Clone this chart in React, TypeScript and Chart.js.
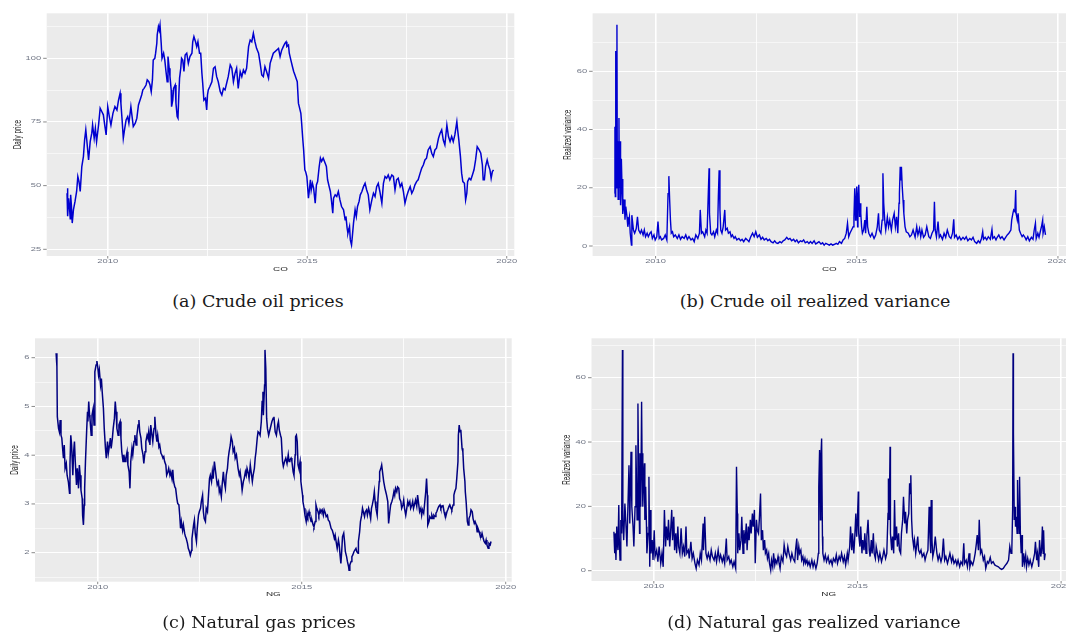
import React, { useEffect, useRef } from "react";
import { Chart, registerables } from "chart.js";

Chart.register(...registerables);

// ---------------- DATA ----------------
const yearTicks = [2010, 2015, 2020];
const yearMinorTicks = [2012.5, 2017.5];

const coPriceTicks = [25, 50, 75, 100];
const coPriceMinorTicks = [37.5, 62.5, 87.5, 112.5];
const rvTicks = [0, 20, 40, 60];
const rvMinorTicks = [10, 30, 50, 70];
const ngPriceTicks = [2, 3, 4, 5, 6];
const ngPriceMinorTicks = [1.5, 2.5, 3.5, 4.5, 5.5];

const coPriceYears = [
  2008.98, 2008.99, 2009.0, 2009.02, 2009.04, 2009.06, 2009.07, 2009.09, 2009.11, 2009.14, 2009.18, 2009.22, 2009.25, 2009.28, 2009.31, 2009.35, 2009.39, 2009.42, 2009.45, 2009.47,
  2009.52, 2009.56, 2009.6, 2009.62, 2009.66, 2009.69, 2009.72, 2009.77, 2009.81, 2009.85, 2009.89, 2009.93, 2009.96, 2010.0, 2010.04, 2010.08, 2010.13, 2010.18, 2010.23, 2010.27,
  2010.31, 2010.33, 2010.36, 2010.39, 2010.42, 2010.46, 2010.5, 2010.53, 2010.58, 2010.61, 2010.64, 2010.69, 2010.73, 2010.77, 2010.81, 2010.85, 2010.88, 2010.91, 2010.96, 2010.99,
  2011.03, 2011.06, 2011.09, 2011.12, 2011.14, 2011.18, 2011.2, 2011.23, 2011.24, 2011.27, 2011.29, 2011.31, 2011.34, 2011.36, 2011.4, 2011.43, 2011.46, 2011.49, 2011.51, 2011.54,
  2011.56, 2011.59, 2011.6, 2011.63, 2011.65, 2011.69, 2011.71, 2011.74, 2011.76, 2011.78, 2011.8, 2011.83, 2011.85, 2011.88, 2011.91, 2011.94, 2011.98, 2012.02, 2012.06, 2012.11,
  2012.13, 2012.16, 2012.2, 2012.23, 2012.26, 2012.3, 2012.33, 2012.36, 2012.38, 2012.41, 2012.45, 2012.48, 2012.5, 2012.52, 2012.56, 2012.61, 2012.65, 2012.69, 2012.73, 2012.77,
  2012.82, 2012.86, 2012.9, 2012.94, 2012.98, 2013.02, 2013.07, 2013.11, 2013.15, 2013.19, 2013.23, 2013.27, 2013.32, 2013.36, 2013.4, 2013.44, 2013.48, 2013.53, 2013.57, 2013.61,
  2013.65, 2013.69, 2013.73, 2013.78, 2013.82, 2013.86, 2013.9, 2013.94, 2013.98, 2014.03, 2014.07, 2014.11, 2014.15, 2014.28, 2014.32, 2014.36, 2014.4, 2014.44, 2014.47, 2014.49,
  2014.53, 2014.55, 2014.59, 2014.63, 2014.66, 2014.69, 2014.72, 2014.75, 2014.78, 2014.8, 2014.84, 2014.86, 2014.89, 2014.91, 2014.94, 2014.96, 2014.99, 2015.01, 2015.03, 2015.05,
  2015.08, 2015.1, 2015.13, 2015.16, 2015.2, 2015.23, 2015.26, 2015.3, 2015.33, 2015.36, 2015.4, 2015.45, 2015.48, 2015.51, 2015.55, 2015.58, 2015.61, 2015.64, 2015.66, 2015.7,
  2015.74, 2015.78, 2015.82, 2015.86, 2015.91, 2015.95, 2015.97, 2016.0, 2016.02, 2016.06, 2016.08, 2016.11, 2016.13, 2016.16, 2016.2, 2016.23, 2016.26, 2016.3, 2016.33, 2016.37,
  2016.41, 2016.45, 2016.49, 2016.53, 2016.57, 2016.62, 2016.66, 2016.7, 2016.74, 2016.78, 2016.82, 2016.87, 2016.91, 2016.95, 2016.99, 2017.03, 2017.07, 2017.12, 2017.16, 2017.2,
  2017.24, 2017.28, 2017.33, 2017.37, 2017.41, 2017.45, 2017.49, 2017.53, 2017.58, 2017.62, 2017.66, 2017.7, 2017.74, 2017.78, 2017.83, 2017.87, 2017.91, 2017.95, 2017.99, 2018.03,
  2018.08, 2018.12, 2018.16, 2018.2, 2018.24, 2018.29, 2018.33, 2018.37, 2018.41, 2018.45, 2018.5, 2018.54, 2018.58, 2018.62, 2018.66, 2018.7, 2018.75, 2018.77, 2018.8, 2018.84,
  2018.87, 2018.9, 2018.94, 2018.97, 2019.0, 2019.02, 2019.06, 2019.1, 2019.14, 2019.18, 2019.22, 2019.26, 2019.31, 2019.35, 2019.39, 2019.41, 2019.44, 2019.47, 2019.51, 2019.54,
  2019.58, 2019.61, 2019.64, 2019.67,
];
const coPriceValues = [
  47, 49, 38, 45, 41.8, 37, 46.4, 42, 35.3, 40.5, 43.8, 47.7, 53.6, 51.6, 47.7, 57.5, 61.4, 67.9, 71.9, 68.6,
  60.1, 67.3, 70.6, 73.8, 68.6, 72.5, 67.3, 73.8, 80.4, 79.1, 77.8, 73.2, 69.9, 81, 77.1, 73.8, 78.4, 81, 79.7, 83.6,
  86.3, 82.3, 75.8, 68.6, 71.9, 75.8, 77.1, 74.5, 81, 77.1, 73.2, 74.5, 76.5, 81.7, 83.6, 85.6, 87.6, 88.2, 89.5, 91.5,
  90.8, 89.5, 86.9, 91.5, 99.3, 100, 102, 105.9, 109.2, 112.4, 111.1, 113.1, 105.9, 100, 102, 99.3, 94.8, 90.8, 100.7, 96.1,
  92.8, 87.6, 81, 83.6, 88.2, 89.5, 82.3, 77.1, 76.5, 85, 92.2, 96.1, 100, 99.3, 94.8, 101.3, 102, 98, 100.7, 102,
  106.5, 108.5, 106.5, 104.6, 106.5, 102, 102, 94.1, 90.2, 83.6, 84.3, 79.7, 85.6, 87.6, 88.9, 90.8, 96.1, 96.7, 92.8, 90.8,
  86.9, 85.6, 88.2, 87.6, 90.2, 92.8, 97.4, 96.1, 90.8, 94.1, 96.1, 88.2, 94.8, 92.8, 95.4, 94.1, 96.1, 104.6, 107.2, 106.5,
  109.8, 106.5, 103.9, 102, 98, 93.5, 92.8, 96.7, 94.8, 92.2, 98, 100, 102, 103.9, 100.7, 103.2, 104.6, 105.9, 106.5, 104.6,
  105.2, 102, 99.3, 96.7, 94.8, 93.5, 92.2, 90.8, 82.3, 81, 78.4, 74.5, 67.9, 64, 56.2, 55.5, 53.6, 49.6, 45.1, 47.7,
  52.3, 48.3, 50.9, 49, 43.1, 50.3, 51.6, 57.5, 60.8, 59.5, 60.8, 58.8, 57.5, 52.3, 49.6, 47.7, 43.8, 39.2, 45.1, 46.4,
  45.7, 47.7, 44.4, 41.8, 40.5, 36.6, 37.9, 33.3, 31.3, 33.9, 28.7, 26.7, 30, 35.3, 40.5, 37.9, 41.8, 43.8, 46.4, 47.7,
  49.6, 50.9, 48.3, 46.4, 40.5, 44.4, 47, 45.7, 49.6, 50.9, 47.7, 43.1, 50.9, 53.6, 52.9, 54.2, 52.3, 54.2, 53.6, 48.3,
  52.3, 52.9, 49.6, 50.9, 47.7, 43.1, 45.7, 47.7, 49.6, 47, 48.3, 50.3, 51.6, 52.3, 54.9, 56.9, 58.1, 60.1, 60.8, 64,
  65.3, 62.7, 61.4, 64, 64.7, 68.6, 70.6, 71.9, 67.9, 66, 73.8, 69.3, 67.3, 69.3, 67.3, 69.9, 75.1, 71.9, 67.9, 61.4,
  54.9, 51.6, 50.9, 44.4, 47, 51.6, 52.9, 52.3, 54.2, 56.2, 60.1, 65.3, 64, 62.7, 58.1, 52.3, 52.3, 57.5, 60.1, 58.1,
  56.2, 52.9, 55.5, 56.2,
];

const coRvYears = [
  2008.98, 2008.99, 2009.0, 2009.01, 2009.02, 2009.04, 2009.05, 2009.06, 2009.07, 2009.09, 2009.1, 2009.12, 2009.13, 2009.15, 2009.17, 2009.18, 2009.19, 2009.22, 2009.24, 2009.26,
  2009.29, 2009.31, 2009.35, 2009.37, 2009.4, 2009.41, 2009.45, 2009.48, 2009.52, 2009.55, 2009.58, 2009.62, 2009.65, 2009.69, 2009.72, 2009.75, 2009.79, 2009.82, 2009.86, 2009.89,
  2009.92, 2009.96, 2009.99, 2010.03, 2010.06, 2010.09, 2010.12, 2010.15, 2010.2, 2010.24, 2010.28, 2010.31, 2010.33, 2010.35, 2010.37, 2010.39, 2010.42, 2010.45, 2010.49, 2010.54,
  2010.58, 2010.62, 2010.66, 2010.71, 2010.75, 2010.79, 2010.83, 2010.88, 2010.92, 2010.96, 2011.0, 2011.05, 2011.09, 2011.11, 2011.14, 2011.17, 2011.22, 2011.25, 2011.28, 2011.31,
  2011.33, 2011.34, 2011.37, 2011.4, 2011.44, 2011.47, 2011.51, 2011.54, 2011.56, 2011.58, 2011.6, 2011.62, 2011.65, 2011.68, 2011.72, 2011.74, 2011.78, 2011.81, 2011.85, 2011.88,
  2011.91, 2011.95, 2011.98, 2012.02, 2012.07, 2012.11, 2012.15, 2012.19, 2012.24, 2012.28, 2012.32, 2012.36, 2012.41, 2012.45, 2012.49, 2012.53, 2012.58, 2012.62, 2012.66, 2012.7,
  2012.75, 2012.79, 2012.83, 2012.87, 2012.92, 2012.96, 2013.0, 2013.04, 2013.09, 2013.13, 2013.17, 2013.21, 2013.26, 2013.3, 2013.34, 2013.38, 2013.43, 2013.47, 2013.51, 2013.55,
  2013.6, 2013.64, 2013.68, 2013.72, 2013.77, 2013.81, 2013.85, 2013.89, 2013.94, 2013.98, 2014.02, 2014.06, 2014.11, 2014.15, 2014.19, 2014.23, 2014.28, 2014.32, 2014.36, 2014.4,
  2014.45, 2014.49, 2014.53, 2014.57, 2014.62, 2014.66, 2014.7, 2014.74, 2014.77, 2014.8, 2014.83, 2014.87, 2014.91, 2014.93, 2014.95, 2014.97, 2014.98, 2015.0, 2015.02, 2015.03,
  2015.05, 2015.07, 2015.09, 2015.1, 2015.12, 2015.14, 2015.17, 2015.2, 2015.22, 2015.25, 2015.27, 2015.3, 2015.34, 2015.38, 2015.43, 2015.47, 2015.51, 2015.54, 2015.56, 2015.6,
  2015.63, 2015.65, 2015.67, 2015.7, 2015.72, 2015.76, 2015.79, 2015.82, 2015.86, 2015.89, 2015.93, 2015.96, 2015.99, 2016.02, 2016.05, 2016.06, 2016.08, 2016.1, 2016.11, 2016.13,
  2016.15, 2016.17, 2016.2, 2016.23, 2016.28, 2016.32, 2016.36, 2016.4, 2016.45, 2016.49, 2016.52, 2016.56, 2016.59, 2016.62, 2016.66, 2016.7, 2016.74, 2016.79, 2016.83, 2016.87,
  2016.91, 2016.93, 2016.95, 2016.98, 2017.02, 2017.05, 2017.08, 2017.13, 2017.17, 2017.21, 2017.25, 2017.3, 2017.34, 2017.38, 2017.41, 2017.43, 2017.47, 2017.51, 2017.55, 2017.59,
  2017.64, 2017.68, 2017.72, 2017.76, 2017.81, 2017.85, 2017.89, 2017.93, 2017.98, 2018.02, 2018.06, 2018.1, 2018.13, 2018.15, 2018.19, 2018.23, 2018.27, 2018.32, 2018.36, 2018.38,
  2018.42, 2018.46, 2018.49, 2018.53, 2018.57, 2018.61, 2018.66, 2018.7, 2018.74, 2018.78, 2018.83, 2018.85, 2018.88, 2018.9, 2018.93, 2018.95, 2018.96, 2018.99, 2019.01, 2019.04,
  2019.07, 2019.11, 2019.14, 2019.18, 2019.21, 2019.25, 2019.29, 2019.34, 2019.38, 2019.41, 2019.44, 2019.46, 2019.5, 2019.53, 2019.57, 2019.59, 2019.62, 2019.63, 2019.66, 2019.69,
];
const coRvValues = [
  18, 41, 17, 67, 20, 76, 22, 36, 16, 44, 20, 36, 14, 30, 18, 23, 11, 16, 9, 13.5,
  10, 6.6, 10, 4.4, 0.3, 10.6, 5.5, 4.4, 6, 10, 5.5, 4.4, 5.5, 3.8, 5.5, 3.2, 4.4, 3.2, 4.4, 4.9,
  2.6, 3.8, 2.1, 3.2, 8.4, 2.6, 3.2, 2.1, 2.6, 3.8, 2.1, 18, 24, 15.8, 8.9, 4.4, 4.9, 3.2, 3.8, 2.6,
  3.8, 2.3, 3.2, 2.6, 3.8, 2.3, 3.2, 2.1, 2.6, 1.5, 3.8, 2.6, 4.4, 12.4, 4.4, 4.9, 3.2, 5.5, 4.4, 18,
  26.7, 11.2, 4.4, 3.8, 4.9, 3.2, 5.5, 4.4, 17, 26, 12.4, 5.5, 4.4, 6.6, 12.4, 5.5, 6.1, 4.4, 4.9, 3.2,
  3.8, 2.6, 3.2, 2.1, 2.6, 1.8, 2.3, 1.5, 2.6, 2.1, 1.5, 3, 4.4, 3.2, 4.9, 3, 3.8, 2.3, 3, 2.1,
  2.6, 1.8, 2.3, 1.5, 1.1, 1.8, 1.1, 0.9, 1.5, 1.1, 1.8, 2.1, 3, 2.3, 2.6, 1.8, 2.3, 1.5, 2.1, 1.1,
  1.8, 1.5, 2.1, 1.1, 1.5, 0.9, 1.5, 0.9, 1.8, 0.7, 1.1, 1.5, 0.7, 1.1, 0.3, 0.9, 0.6, 0.3, 0.7, 0.3,
  0.6, 0.9, 0.6, 1.5, 0.9, 2.1, 2.6, 4.4, 7.8, 3.2, 4.4, 5.5, 6.6, 10, 19.8, 8.9, 13.5, 20.4, 6.6, 15.8,
  21, 10, 14.7, 11.2, 6.6, 4.4, 5.5, 8.9, 4.4, 13.5, 6.6, 4.4, 3.2, 4.4, 2.6, 3.8, 6.6, 11.2, 5.5, 4.4,
  8.9, 25, 14.7, 7.8, 5.5, 10, 6.6, 8.9, 5.5, 8.9, 11.2, 6.6, 10, 4.4, 14.7, 18, 27.2, 22.7, 27.2, 20.4,
  15.8, 11.2, 6.6, 4.9, 4.4, 3.2, 3.8, 5.5, 3, 6.6, 3.8, 6, 3.2, 5.5, 3, 3.8, 6.6, 3.2, 2.6, 4.4,
  5.5, 15.2, 5.5, 3.2, 8.4, 3, 3.8, 2.3, 4.4, 3, 5.5, 3.2, 2.6, 4.4, 9.2, 3, 3.8, 2.3, 3.2, 2.1,
  3, 2.3, 3.2, 1.8, 2.6, 2.1, 3, 1.5, 0.9, 1.8, 1.1, 2.6, 4.9, 2.3, 3, 2.1, 3.2, 2.3, 5.7, 2.6,
  3.2, 2.1, 3, 3.8, 2.6, 3.2, 2.1, 3, 3.8, 4.4, 5.5, 8.9, 11.2, 12.4, 11.8, 19.2, 11.2, 8.9, 11.2, 5.5,
  4.4, 3.2, 3.8, 3, 2.1, 3.2, 1.8, 3, 2.3, 5.5, 7.8, 2.6, 4.4, 3, 5.5, 6.6, 8.9, 4.4, 6.6, 3.8,
];

const ngPriceYears = [
  2008.98, 2009.0, 2009.01, 2009.04, 2009.06, 2009.08, 2009.1, 2009.12, 2009.14, 2009.16, 2009.18, 2009.2, 2009.23, 2009.25, 2009.28, 2009.31, 2009.32, 2009.34, 2009.36, 2009.39,
  2009.41, 2009.43, 2009.45, 2009.48, 2009.5, 2009.53, 2009.55, 2009.57, 2009.59, 2009.62, 2009.63, 2009.65, 2009.67, 2009.68, 2009.7, 2009.73, 2009.75, 2009.76, 2009.78, 2009.8,
  2009.81, 2009.84, 2009.86, 2009.89, 2009.91, 2009.93, 2009.96, 2009.98, 2010.0, 2010.02, 2010.04, 2010.07, 2010.09, 2010.11, 2010.14, 2010.16, 2010.19, 2010.21, 2010.24, 2010.26,
  2010.29, 2010.31, 2010.33, 2010.36, 2010.38, 2010.41, 2010.43, 2010.45, 2010.47, 2010.5, 2010.52, 2010.55, 2010.57, 2010.59, 2010.62, 2010.64, 2010.67, 2010.69, 2010.72, 2010.74,
  2010.77, 2010.79, 2010.81, 2010.84, 2010.86, 2010.89, 2010.91, 2010.94, 2010.96, 2010.99, 2011.01, 2011.03, 2011.06, 2011.08, 2011.11, 2011.13, 2011.16, 2011.18, 2011.21, 2011.23,
  2011.25, 2011.28, 2011.3, 2011.33, 2011.35, 2011.38, 2011.4, 2011.43, 2011.45, 2011.47, 2011.5, 2011.52, 2011.55, 2011.57, 2011.6, 2011.62, 2011.64, 2011.67, 2011.69, 2011.72,
  2011.74, 2011.77, 2011.79, 2011.82, 2011.84, 2011.86, 2011.89, 2011.91, 2011.94, 2011.96, 2011.99, 2012.01, 2012.03, 2012.05, 2012.08, 2012.1, 2012.13, 2012.15, 2012.17, 2012.2,
  2012.22, 2012.25, 2012.27, 2012.3, 2012.31, 2012.33, 2012.35, 2012.37, 2012.39, 2012.42, 2012.44, 2012.47, 2012.49, 2012.52, 2012.54, 2012.57, 2012.59, 2012.61, 2012.64, 2012.66,
  2012.69, 2012.71, 2012.74, 2012.76, 2012.79, 2012.81, 2012.83, 2012.86, 2012.88, 2012.91, 2012.93, 2012.96, 2012.98, 2013.0, 2013.03, 2013.05, 2013.08, 2013.1, 2013.13, 2013.15,
  2013.18, 2013.2, 2013.22, 2013.25, 2013.27, 2013.3, 2013.32, 2013.35, 2013.37, 2013.4, 2013.42, 2013.44, 2013.47, 2013.49, 2013.52, 2013.54, 2013.57, 2013.59, 2013.62, 2013.64,
  2013.66, 2013.69, 2013.71, 2013.74, 2013.76, 2013.79, 2013.81, 2013.84, 2013.86, 2013.88, 2013.91, 2013.93, 2013.96, 2013.98, 2014.01, 2014.03, 2014.05, 2014.06, 2014.09, 2014.1,
  2014.12, 2014.14, 2014.16, 2014.19, 2014.21, 2014.27, 2014.3, 2014.32, 2014.35, 2014.38, 2014.41, 2014.43, 2014.45, 2014.48, 2014.5, 2014.53, 2014.55, 2014.58, 2014.61, 2014.64,
  2014.67, 2014.69, 2014.71, 2014.74, 2014.76, 2014.79, 2014.81, 2014.84, 2014.85, 2014.87, 2014.89, 2014.91, 2014.93, 2014.96, 2014.98, 2015.0, 2015.02, 2015.03, 2015.06, 2015.08,
  2015.11, 2015.13, 2015.15, 2015.18, 2015.2, 2015.23, 2015.25, 2015.28, 2015.3, 2015.33, 2015.35, 2015.37, 2015.4, 2015.42, 2015.45, 2015.47, 2015.5, 2015.53, 2015.55, 2015.58,
  2015.6, 2015.63, 2015.65, 2015.68, 2015.7, 2015.72, 2015.75, 2015.77, 2015.8, 2015.82, 2015.85, 2015.87, 2015.9, 2015.92, 2015.94, 2015.96, 2015.98, 2016.0, 2016.03, 2016.05,
  2016.07, 2016.1, 2016.12, 2016.15, 2016.16, 2016.18, 2016.21, 2016.23, 2016.25, 2016.28, 2016.3, 2016.33, 2016.35, 2016.38, 2016.39, 2016.42, 2016.44, 2016.47, 2016.49, 2016.51,
  2016.54, 2016.56, 2016.59, 2016.61, 2016.64, 2016.66, 2016.69, 2016.71, 2016.73, 2016.76, 2016.78, 2016.8, 2016.82, 2016.85, 2016.87, 2016.9, 2016.91, 2016.94, 2016.96, 2016.99,
  2017.01, 2017.04, 2017.06, 2017.08, 2017.11, 2017.13, 2017.16, 2017.18, 2017.21, 2017.23, 2017.26, 2017.28, 2017.3, 2017.33, 2017.35, 2017.38, 2017.4, 2017.43, 2017.45, 2017.48,
  2017.5, 2017.52, 2017.55, 2017.57, 2017.6, 2017.62, 2017.65, 2017.67, 2017.7, 2017.72, 2017.74, 2017.77, 2017.79, 2017.82, 2017.84, 2017.87, 2017.89, 2017.92, 2017.94, 2017.96,
  2017.99, 2018.01, 2018.04, 2018.06, 2018.08, 2018.09, 2018.12, 2018.14, 2018.17, 2018.19, 2018.22, 2018.24, 2018.27, 2018.29, 2018.31, 2018.34, 2018.36, 2018.39, 2018.41, 2018.44,
  2018.46, 2018.49, 2018.51, 2018.53, 2018.56, 2018.58, 2018.61, 2018.63, 2018.66, 2018.68, 2018.71, 2018.73, 2018.75, 2018.78, 2018.8, 2018.83, 2018.84, 2018.86, 2018.88, 2018.9,
  2018.93, 2018.95, 2018.97, 2019.0, 2019.01, 2019.03, 2019.06, 2019.08, 2019.1, 2019.13, 2019.15, 2019.18, 2019.2, 2019.23, 2019.25, 2019.28, 2019.3, 2019.32, 2019.35, 2019.37,
  2019.4, 2019.42, 2019.45, 2019.47, 2019.5, 2019.52, 2019.54, 2019.57, 2019.59, 2019.62, 2019.64,
];
const ngPriceValues = [
  6.09, 5.82, 4.79, 4.55, 4.48, 4.72, 4.41, 4.35, 4.14, 3.94, 4.21, 3.73, 3.83, 3.59, 3.46, 3.22, 3.8, 4.41, 4.21, 3.59,
  4.07, 4.28, 3.87, 3.39, 3.73, 3.32, 3.8, 3.59, 3.28, 3.11, 2.77, 2.57, 2.98, 3.32, 3.87, 4.52, 4.89, 4.69, 5.1, 4.82,
  4.76, 4.41, 4.82, 4.96, 4.62, 5.71, 5.85, 5.93, 5.82, 5.64, 5.75, 5.44, 5.57, 5.3, 4.96, 4.55, 4.14, 3.94, 4.28, 4.04,
  4.21, 4.35, 4.14, 4.35, 4.55, 4.76, 5.1, 4.89, 4.55, 4.41, 4.62, 4.69, 4.35, 4.07, 3.87, 4.01, 3.87, 3.94, 4.07, 3.8,
  3.66, 3.32, 3.87, 4.14, 4.01, 4.28, 4.41, 4.21, 4.41, 4.62, 4.72, 4.48, 4.35, 4.14, 4.01, 3.83, 4.07, 4.28, 4.41, 4.35,
  4.48, 4.21, 4.62, 4.41, 4.28, 4.55, 4.79, 4.41, 4.28, 4.41, 4.17, 4.21, 4.04, 4.01, 3.94, 3.97, 3.87, 3.8, 3.59, 3.66,
  3.73, 3.59, 3.66, 3.52, 3.7, 3.46, 3.35, 3.32, 3.11, 3.01, 2.98, 2.77, 2.5, 2.64, 2.46, 2.57, 2.4, 2.33, 2.29, 2.19,
  2.09, 2.02, 1.95, 2.05, 2.29, 2.43, 2.57, 2.67, 2.4, 2.23, 2.5, 2.77, 2.84, 2.91, 3.05, 3.18, 2.84, 2.7, 2.64, 2.91,
  2.84, 3.11, 3.52, 3.59, 3.46, 3.66, 3.52, 3.87, 3.73, 3.52, 3.39, 3.46, 3.25, 3.32, 3.15, 3.39, 3.66, 3.46, 3.32, 3.59,
  3.73, 3.94, 4.07, 4.21, 4.38, 4.28, 4.07, 4.14, 3.94, 4.01, 3.87, 3.73, 3.59, 3.66, 3.46, 3.28, 3.46, 3.52, 3.66, 3.59,
  3.73, 3.63, 3.52, 3.8, 3.66, 3.46, 3.59, 3.73, 3.94, 4.07, 4.35, 4.48, 4.45, 4.41, 4.69, 5.1, 5.3, 4.82, 5.44, 6.16,
  5.78, 4.76, 4.55, 4.41, 4.48, 4.69, 4.76, 4.79, 4.48, 4.41, 4.62, 4.69, 4.52, 4.41, 4.35, 3.87, 3.77, 3.87, 3.94, 3.83,
  4.01, 3.87, 3.9, 3.94, 3.87, 3.66, 3.59, 4.01, 4.38, 4.41, 4.28, 3.8, 3.73, 3.87, 3.46, 3.32, 3.18, 3.05, 2.91, 2.77,
  2.64, 2.81, 2.74, 2.84, 2.74, 2.64, 2.67, 2.57, 2.53, 2.64, 2.98, 2.91, 2.84, 2.77, 2.88, 2.84, 2.88, 2.77, 2.88, 2.81,
  2.74, 2.77, 2.67, 2.64, 2.57, 2.5, 2.46, 2.4, 2.29, 2.36, 2.19, 2.09, 2.26, 2.16, 1.95, 1.78, 2.02, 2.33, 2.4, 2.23,
  2.02, 1.92, 1.82, 1.71, 1.64, 1.75, 1.82, 1.92, 1.95, 2.02, 2.05, 2.09, 2.02, 1.99, 2.23, 2.43, 2.64, 2.77, 2.91, 2.84,
  2.74, 2.84, 2.88, 2.77, 2.91, 2.84, 2.7, 2.91, 2.98, 3.11, 3.25, 3.05, 2.91, 2.77, 3.11, 3.46, 3.66, 3.73, 3.8, 3.59,
  3.46, 3.32, 3.25, 3.18, 3.05, 2.6, 2.84, 2.98, 3.05, 3.11, 3.25, 3.18, 3.32, 3.25, 3.35, 3.32, 3.11, 3.05, 2.91, 2.98,
  3.08, 2.91, 2.77, 2.88, 3.05, 2.98, 3.05, 2.91, 2.98, 3.05, 2.91, 3.01, 3.08, 2.95, 3.18, 2.98, 2.84, 2.91, 2.77, 2.88,
  2.81, 2.98, 3.25, 3.52, 3.18, 2.57, 2.64, 2.74, 2.7, 2.77, 2.7, 2.77, 2.74, 2.81, 2.84, 2.91, 2.95, 2.98, 2.91, 2.95,
  2.98, 2.84, 2.77, 2.74, 2.84, 2.88, 2.95, 2.98, 2.91, 2.88, 2.98, 3.18, 3.25, 3.32, 3.52, 3.87, 4.41, 4.62, 4.48, 4.52,
  4.14, 4.07, 3.73, 3.46, 3.25, 3.05, 2.64, 2.57, 2.7, 2.77, 2.88, 2.84, 2.7, 2.6, 2.64, 2.57, 2.43, 2.5, 2.43, 2.36,
  2.33, 2.4, 2.29, 2.23, 2.19, 2.26, 2.16, 2.09, 2.19, 2.16, 2.23,
];

const ngRvYears = [
  2009.02, 2009.04, 2009.05, 2009.07, 2009.09, 2009.1, 2009.12, 2009.14, 2009.15, 2009.17, 2009.19, 2009.21, 2009.23, 2009.24, 2009.26, 2009.29, 2009.31, 2009.34, 2009.36, 2009.39,
  2009.41, 2009.44, 2009.46, 2009.49, 2009.51, 2009.54, 2009.56, 2009.59, 2009.61, 2009.63, 2009.65, 2009.66, 2009.68, 2009.7, 2009.71, 2009.73, 2009.75, 2009.77, 2009.78, 2009.8,
  2009.82, 2009.83, 2009.86, 2009.88, 2009.9, 2009.92, 2009.93, 2009.96, 2009.98, 2010.01, 2010.03, 2010.07, 2010.1, 2010.13, 2010.17, 2010.2, 2010.23, 2010.26, 2010.29, 2010.31,
  2010.34, 2010.36, 2010.39, 2010.41, 2010.44, 2010.46, 2010.49, 2010.51, 2010.54, 2010.56, 2010.59, 2010.61, 2010.64, 2010.67, 2010.7, 2010.73, 2010.76, 2010.79, 2010.81, 2010.85,
  2010.87, 2010.91, 2010.94, 2010.97, 2011.01, 2011.04, 2011.07, 2011.11, 2011.14, 2011.17, 2011.21, 2011.22, 2011.25, 2011.28, 2011.31, 2011.34, 2011.38, 2011.41, 2011.44, 2011.48,
  2011.51, 2011.54, 2011.58, 2011.61, 2011.64, 2011.68, 2011.71, 2011.74, 2011.78, 2011.8, 2011.84, 2011.87, 2011.9, 2011.94, 2011.97, 2012.01, 2012.03, 2012.05, 2012.06, 2012.09,
  2012.11, 2012.14, 2012.16, 2012.19, 2012.21, 2012.24, 2012.27, 2012.29, 2012.32, 2012.34, 2012.37, 2012.39, 2012.42, 2012.44, 2012.47, 2012.49, 2012.52, 2012.54, 2012.57, 2012.59,
  2012.62, 2012.64, 2012.67, 2012.69, 2012.72, 2012.74, 2012.77, 2012.79, 2012.82, 2012.84, 2012.87, 2012.89, 2012.92, 2012.94, 2012.97, 2012.99, 2013.02, 2013.05, 2013.07, 2013.1,
  2013.13, 2013.17, 2013.2, 2013.23, 2013.26, 2013.29, 2013.32, 2013.36, 2013.39, 2013.42, 2013.46, 2013.48, 2013.51, 2013.53, 2013.56, 2013.58, 2013.61, 2013.63, 2013.66, 2013.68,
  2013.71, 2013.73, 2013.76, 2013.78, 2013.81, 2013.84, 2013.88, 2013.91, 2013.94, 2013.98, 2014.01, 2014.04, 2014.05, 2014.07, 2014.09, 2014.1, 2014.12, 2014.14, 2014.15, 2014.18,
  2014.21, 2014.24, 2014.28, 2014.31, 2014.35, 2014.38, 2014.41, 2014.45, 2014.48, 2014.51, 2014.55, 2014.58, 2014.61, 2014.65, 2014.68, 2014.71, 2014.75, 2014.77, 2014.81, 2014.83,
  2014.86, 2014.88, 2014.91, 2014.93, 2014.96, 2014.98, 2015.0, 2015.02, 2015.03, 2015.06, 2015.08, 2015.11, 2015.13, 2015.16, 2015.18, 2015.21, 2015.23, 2015.26, 2015.29, 2015.31,
  2015.34, 2015.36, 2015.39, 2015.41, 2015.44, 2015.46, 2015.49, 2015.52, 2015.55, 2015.59, 2015.62, 2015.65, 2015.69, 2015.72, 2015.75, 2015.76, 2015.78, 2015.8, 2015.81, 2015.84,
  2015.86, 2015.89, 2015.91, 2015.93, 2015.96, 2015.98, 2016.01, 2016.03, 2016.06, 2016.08, 2016.11, 2016.13, 2016.16, 2016.18, 2016.21, 2016.23, 2016.26, 2016.28, 2016.29, 2016.31,
  2016.33, 2016.35, 2016.38, 2016.4, 2016.43, 2016.45, 2016.48, 2016.5, 2016.53, 2016.56, 2016.59, 2016.63, 2016.66, 2016.69, 2016.73, 2016.76, 2016.78, 2016.8, 2016.81, 2016.83,
  2016.85, 2016.88, 2016.91, 2016.95, 2016.98, 2017.01, 2017.05, 2017.08, 2017.11, 2017.14, 2017.17, 2017.21, 2017.24, 2017.27, 2017.31, 2017.34, 2017.37, 2017.41, 2017.44, 2017.47,
  2017.51, 2017.54, 2017.58, 2017.61, 2017.63, 2017.67, 2017.7, 2017.74, 2017.76, 2017.79, 2017.83, 2017.86, 2017.89, 2017.92, 2017.94, 2017.97, 2017.99, 2018.02, 2018.05, 2018.09,
  2018.12, 2018.15, 2018.19, 2018.22, 2018.26, 2018.29, 2018.33, 2018.37, 2018.41, 2018.46, 2018.5, 2018.54, 2018.58, 2018.62, 2018.67, 2018.71, 2018.74, 2018.77, 2018.79, 2018.81,
  2018.82, 2018.83, 2018.85, 2018.87, 2018.88, 2018.9, 2018.92, 2018.93, 2018.95, 2018.97, 2018.98, 2019.0, 2019.02, 2019.04, 2019.05, 2019.08, 2019.1, 2019.13, 2019.15, 2019.18,
  2019.21, 2019.24, 2019.28, 2019.31, 2019.35, 2019.37, 2019.4, 2019.42, 2019.45, 2019.47, 2019.5, 2019.52, 2019.54, 2019.56, 2019.57, 2019.59, 2019.61,
];
const ngRvValues = [
  12.1, 5.4, 11.6, 3.3, 13.7, 9.5, 6.4, 20.4, 10.6, 3.3, 15.8, 11.6, 68.6, 15.8, 9.5, 20.9, 15.8, 7.5, 17.8, 32.8,
  14.7, 37, 19.9, 13.7, 7.5, 19.9, 39, 15.8, 52, 26.1, 11.6, 36.5, 19.9, 52.5, 36.5, 19.9, 28.2, 33.4, 15.8, 26.1,
  13.7, 5.4, 11.6, 29.2, 1.2, 18.9, 5.4, 9.5, 3.3, 12.6, 4.4, 6.4, 2.8, 7.5, 2.3, 5.4, 1.2, 18.9, 7.5, 13.7,
  9.5, 15.8, 7.5, 11.6, 18.9, 9.5, 16.8, 6.4, 11.6, 5.4, 13.7, 7.5, 5.4, 13.2, 5.4, 7.5, 4.4, 13.7, 5.4, 6.4,
  3.8, 9, 3.8, 5.4, 2.3, 0.7, 3.3, 1.8, 5.4, 3.3, 14.7, 6.4, 16.8, 5.4, 3.8, 5.4, 3.3, 6.4, 4.4, 3.3,
  5.4, 2.8, 6.4, 3.3, 4.9, 2.8, 4.4, 2.3, 10, 3.3, 4.4, 2.3, 3.3, 1.2, 2.8, 0.7, 32.3, 17.8, 5.4, 11.6,
  6.4, 9.5, 16.8, 5.4, 12.6, 8.5, 14.7, 6.4, 13.7, 9.5, 15.8, 11.6, 17.8, 13.7, 18.9, 2.3, 15.8, 12.6, 11.6, 15.8,
  24, 9.5, 12.6, 6.4, 9.5, 5.4, 6.4, 3.8, 5.4, 2.3, 0.2, 3.3, 1.2, 5.4, 1.8, 3.3, 2.3, 4.4, 2.8, 0.7,
  4.4, 2.8, 8, 5.4, 4.4, 7.5, 5.4, 3.3, 5.4, 3.8, 2.8, 6.4, 10, 3.3, 7.5, 5.4, 6.4, 3.3, 4.4, 2.3,
  3.8, 2.3, 3.3, 1.8, 2.8, 1.2, 3.3, 1.2, 2.8, 0.7, 2.3, 5.4, 26.1, 37.5, 15.8, 34.4, 41.1, 10.6, 5.4, 3.3,
  4.9, 2.8, 4.4, 2.3, 3.3, 1.8, 3.8, 2.8, 4.9, 2.3, 4.4, 3.3, 5.4, 2.8, 4.4, 1.8, 5.4, 3.3, 7.5, 13.7,
  6.4, 11.6, 5.4, 9.5, 17.8, 10.6, 15.8, 24.6, 11.6, 7.5, 13.7, 5.4, 9.5, 6.4, 11.6, 5.4, 10.6, 15.8, 6.4, 4.4,
  9.5, 5.4, 11.6, 5.4, 3.8, 7.5, 5.4, 3.3, 5.4, 2.8, 4.4, 6.4, 3.8, 5.4, 17.8, 28.7, 15.8, 38.5, 11.6, 6.4,
  10.6, 5.4, 22, 9.5, 13.7, 7.5, 11.6, 6.4, 5.4, 11.6, 15.8, 23, 14.7, 18.3, 11.6, 15.8, 17.8, 27.2, 24, 29.7,
  15.8, 10.6, 7.5, 9.5, 5.4, 7.5, 10.6, 6.4, 5.4, 6.4, 4.4, 5.4, 3.3, 4.9, 6.4, 19.9, 10.6, 5.4, 22, 9.5,
  4.4, 6.4, 10.6, 5.4, 3.3, 4.9, 2.8, 4.4, 10, 3.3, 4.4, 2.3, 3.8, 5.4, 2.8, 4.4, 2.3, 3.3, 1.8, 3.3,
  1.2, 2.8, 1.8, 8.5, 2.3, 3.3, 1.2, 5.4, 1.2, 2.8, 1.8, 3.3, 5.4, 8.5, 11.1, 6.4, 15.8, 5.4, 6.4, 3.3,
  4.4, 0.7, 2.8, 2.3, 4.1, 2.3, 2.8, 1.8, 1.5, 1.2, 0.7, 0.4, 0.7, 1.5, 2.3, 3.3, 7.5, 5.4, 6.4, 18.9,
  67.6, 42.7, 15.8, 19.9, 13.7, 16.8, 11.6, 28.2, 17.8, 11.6, 29.2, 11.6, 5.4, 11.1, 1.2, 5.4, 2.3, 4.9, 1.2, 3.8,
  1.8, 3.3, 1.2, 2.8, 5.4, 9, 3.3, 5.4, 1.2, 9.5, 4.4, 6.4, 13.7, 5.4, 12.6, 3.3, 5.4,
];

// ---------------- STYLE ----------------
const PANEL_BG = "#EBEBEB";
const TICK_TEXT = "#6f7584";
const TITLE_TEXT = "#222222";
const TICK_MARK = "#8a8a8a";
const SX = 1.7; // horizontal stretch of the in-plot text (the original plots are stretched)
const SANS = '"Liberation Sans", Arial, sans-serif';

type Panel = {
  key: string;
  left: number; top: number; width: number; height: number;
  pad: { left: number; top: number; right: number; bottom: number };
  xMin: number; xMax: number; yMin: number; yMax: number;
  years: number[]; values: number[];
  yMajor: number[]; yMinor: number[];
  color: string; lineWidth: number; yTitle: string; xTitle: string; yTitleOffset: number;
};

const panels: Panel[] = [
  {
    key: "a", left: 0, top: 0, width: 533, height: 280,
    pad: { left: 46.7, top: 13.3, right: 18.7, bottom: 24 },
    xMin: 2008.47, xMax: 2020.19, yMin: 22.37, yMax: 117.67,
    years: coPriceYears, values: coPriceValues, yMajor: coPriceTicks, yMinor: coPriceMinorTicks,
    color: "#0000D0", lineWidth: 1.5, yTitle: "Daily price", xTitle: "CO", yTitleOffset: 28.4,
  },
  {
    key: "b", left: 533, top: 0, width: 547, height: 280,
    pad: { left: 59.6, top: 13.3, right: 14, bottom: 24 },
    xMin: 2008.435, xMax: 2020.2, yMin: -3.43, yMax: 79.92,
    years: coRvYears, values: coRvValues, yMajor: rvTicks, yMinor: rvMinorTicks,
    color: "#0000D0", lineWidth: 1.4, yTitle: "Realized variance", xTitle: "CO", yTitleOffset: 24.6,
  },
  {
    key: "c", left: 0, top: 320, width: 533, height: 313,
    pad: { left: 35, top: 18.3, right: 21.3, bottom: 51.3 },
    xMin: 2008.463, xMax: 2020.147, yMin: 1.405, yMax: 6.398,
    years: ngPriceYears, values: ngPriceValues, yMajor: ngPriceTicks, yMinor: ngPriceMinorTicks,
    color: "#000080", lineWidth: 1.5, yTitle: "Daily price", xTitle: "NG", yTitleOffset: 19.7,
  },
  {
    key: "d", left: 533, top: 320, width: 547, height: 313,
    pad: { left: 58.5, top: 18.3, right: 14, bottom: 52 },
    xMin: 2008.47, xMax: 2020.12, yMin: -3.2, yMax: 72.25,
    years: ngRvYears, values: ngRvValues, yMajor: rvTicks, yMinor: rvMinorTicks,
    color: "#000080", lineWidth: 1.4, yTitle: "Realized variance", xTitle: "NG", yTitleOffset: 23.9,
  },
];

const captions = [
  { text: "(a) Crude oil prices", cx: 258, top: 291 },
  { text: "(b) Crude oil realized variance", cx: 815, top: 291 },
  { text: "(c) Natural gas prices", cx: 259, top: 612 },
  { text: "(d) Natural gas realized variance", cx: 814, top: 612 },
];

const panelBgPlugin = {
  id: "panelBg",
  beforeDraw(chart: any) {
    const { ctx, chartArea: a } = chart;
    ctx.save();
    ctx.fillStyle = PANEL_BG;
    ctx.fillRect(a.left, a.top, a.right - a.left, a.bottom - a.top);
    ctx.restore();
  },
};

function stretchedText(ctx: CanvasRenderingContext2D, text: string, x: number, y: number, align: CanvasTextAlign, sx: number) {
  ctx.save();
  ctx.translate(x, y);
  ctx.scale(sx, 1);
  ctx.textAlign = align;
  ctx.fillText(text, 0, 0);
  ctx.restore();
}

function makeAxisPlugin(p: Panel) {
  return {
    id: "axisText" + p.key,
    afterDraw(chart: any) {
      const { ctx, chartArea: a, scales } = chart;
      const xs = scales.x;
      const ys = scales.y;
      ctx.save();
      // tick marks
      ctx.strokeStyle = TICK_MARK;
      ctx.lineWidth = 1;
      ctx.beginPath();
      p.yMajor.forEach((v) => {
        const y = ys.getPixelForValue(v);
        ctx.moveTo(a.left - 3.5, y);
        ctx.lineTo(a.left, y);
      });
      yearTicks.forEach((v) => {
        const x = xs.getPixelForValue(v);
        ctx.moveTo(x, a.bottom);
        ctx.lineTo(x, a.bottom + 2.5);
      });
      ctx.stroke();

      // tick labels
      ctx.fillStyle = TICK_TEXT;
      ctx.font = `5.5px ${SANS}`;
      ctx.textBaseline = "middle";
      p.yMajor.forEach((v) => {
        stretchedText(ctx, String(v), a.left - 5.5, ys.getPixelForValue(v), "right", SX);
      });
      yearTicks.forEach((v) => {
        stretchedText(ctx, String(v), xs.getPixelForValue(v), a.bottom + 5.8, "center", SX);
      });

      // axis titles
      ctx.fillStyle = TITLE_TEXT;
      ctx.font = `5.8px ${SANS}`;
      stretchedText(ctx, p.xTitle, (a.left + a.right) / 2, a.bottom + 13, "center", SX);

      ctx.font = `6.3px ${SANS}`;
      ctx.save();
      ctx.translate(a.left - p.yTitleOffset, (a.top + a.bottom) / 2);
      ctx.scale(1.6, 1);
      ctx.rotate(-Math.PI / 2);
      ctx.textAlign = "center";
      ctx.textBaseline = "middle";
      ctx.fillText(p.yTitle, 0, 0);
      ctx.restore();

      ctx.restore();
    },
  };
}

function PanelChart({ p }: { p: Panel }) {
  const ref = useRef<HTMLCanvasElement | null>(null);
  useEffect(() => {
    if (!ref.current) return;
    const xAll = [...yearTicks, ...yearMinorTicks];
    const yAll = [...p.yMajor, ...p.yMinor];
    const chart = new Chart(ref.current, {
      type: "line",
      data: {
        datasets: [
          {
            data: p.years.map((x, i) => ({ x, y: p.values[i] })),
            borderColor: p.color,
            borderWidth: p.lineWidth,
            pointRadius: 0,
            tension: 0,
            fill: false,
          },
        ],
      },
      options: {
        animation: false,
        responsive: false,
        events: [],
        layout: { padding: p.pad },
        plugins: { legend: { display: false }, tooltip: { enabled: false } },
        scales: {
          x: {
            type: "linear",
            min: p.xMin,
            max: p.xMax,
            afterBuildTicks: (s: any) => {
              s.ticks = xAll.filter((v) => v >= p.xMin && v <= p.xMax).map((v) => ({ value: v }));
            },
            afterFit: (s: any) => {
              s.height = 0;
            },
            ticks: { display: false },
            border: { display: false },
            grid: {
              color: "#FFFFFF",
              lineWidth: (c: any) => (yearTicks.includes(c.tick && c.tick.value) ? 1.6 : 0.8),
              drawTicks: false,
            },
          },
          y: {
            type: "linear",
            min: p.yMin,
            max: p.yMax,
            afterBuildTicks: (s: any) => {
              s.ticks = yAll.filter((v) => v >= p.yMin && v <= p.yMax).map((v) => ({ value: v }));
            },
            afterFit: (s: any) => {
              s.width = 0;
            },
            ticks: { display: false },
            border: { display: false },
            grid: {
              color: "#FFFFFF",
              lineWidth: (c: any) => (p.yMajor.includes(c.tick && c.tick.value) ? 1.1 : 0.55),
              drawTicks: false,
            },
          },
        },
      } as any,
      plugins: [panelBgPlugin, makeAxisPlugin(p)],
    });
    return () => chart.destroy();
  }, [p]);
  return (
    <canvas
      ref={ref}
      width={p.width}
      height={p.height}
      style={{ position: "absolute", left: p.left, top: p.top, width: p.width, height: p.height }}
    />
  );
}

export default function App() {
  return (
    <div
      style={{
        position: "absolute",
        left: 0,
        top: 0,
        width: 1066,
        height: 633,
        overflow: "hidden",
        background: "#ffffff",
      }}
    >
      {panels.map((p) => (
        <PanelChart key={p.key} p={p} />
      ))}
      {captions.map((c) => (
        <div
          key={c.text}
          style={{
            position: "absolute",
            left: c.cx - 250,
            top: c.top,
            width: 500,
            textAlign: "center",
            fontFamily: '"DejaVu Serif", "Liberation Serif", serif',
            fontSize: 17.5,
            lineHeight: "20px",
            color: "#1a1a1a",
            whiteSpace: "nowrap",
          }}
        >
          {c.text}
        </div>
      ))}
    </div>
  );
}
